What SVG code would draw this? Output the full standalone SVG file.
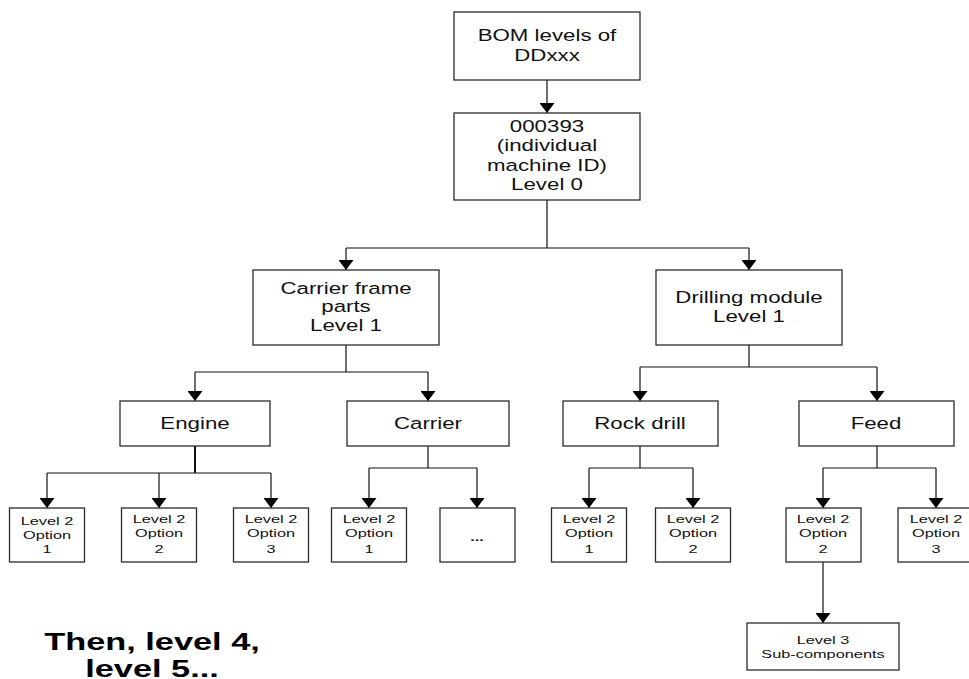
<svg xmlns="http://www.w3.org/2000/svg" width="969" height="679" viewBox="0 0 969 679">
  <style>
    .box { fill: #ffffff; stroke: #2b2b2b; stroke-width: 1.3; }
    .wire { fill: none; stroke: #111111; stroke-width: 1.2; }
    .lbl { font-family: "Liberation Sans", Arial, sans-serif; font-size: 16.5px; fill: #111111; text-anchor: middle; }
    .sm { font-family: "Liberation Sans", Arial, sans-serif; font-size: 11.5px; fill: #111111; text-anchor: middle; }
    .note { font-family: "Liberation Sans", Arial, sans-serif; font-size: 24px; font-weight: bold; fill: #000000; text-anchor: middle; }
  </style>
  <defs>
    <marker id="arrow" markerUnits="userSpaceOnUse" markerWidth="10" markerHeight="15" refX="10" refY="7.5" orient="auto" viewBox="0 0 10 15">
      <path d="M0,0 L10,7.5 L0,15 Z" fill="#000000"/>
    </marker>
  </defs>

  <rect width="969" height="679" fill="#ffffff"/>

  <!-- connectors -->
  <g id="connectors">
    <path class="wire" d="M547,80 V113" marker-end="url(#arrow)"/>
    <path class="wire" d="M547,200 V248 M346,248 H749"/>
    <path class="wire" d="M346,248 V270" marker-end="url(#arrow)"/>
    <path class="wire" d="M749,248 V270" marker-end="url(#arrow)"/>

    <path class="wire" d="M346,345 V372 M195,372 H428"/>
    <path class="wire" d="M195,372 V401" marker-end="url(#arrow)"/>
    <path class="wire" d="M428,372 V401" marker-end="url(#arrow)"/>

    <path class="wire" d="M749,345 V367 M640,367 H877"/>
    <path class="wire" d="M640,367 V401" marker-end="url(#arrow)"/>
    <path class="wire" d="M877,367 V401" marker-end="url(#arrow)"/>

    <path class="wire" d="M195,446 V473" style="stroke-width:2"/>
    <path class="wire" d="M47,473 H271"/>
    <path class="wire" d="M47,473 V508" marker-end="url(#arrow)"/>
    <path class="wire" d="M159,473 V508" marker-end="url(#arrow)"/>
    <path class="wire" d="M271,473 V508" marker-end="url(#arrow)"/>

    <path class="wire" d="M428,446 V468 M369,468 H477"/>
    <path class="wire" d="M369,468 V508" marker-end="url(#arrow)"/>
    <path class="wire" d="M477,468 V508" marker-end="url(#arrow)"/>

    <path class="wire" d="M640,446 V468 M589,468 H693"/>
    <path class="wire" d="M589,468 V508" marker-end="url(#arrow)"/>
    <path class="wire" d="M693,468 V508" marker-end="url(#arrow)"/>

    <path class="wire" d="M877,446 V468 M823,468 H936"/>
    <path class="wire" d="M823,468 V508" marker-end="url(#arrow)"/>
    <path class="wire" d="M936,468 V508" marker-end="url(#arrow)"/>

    <path class="wire" d="M823,562 V623" marker-end="url(#arrow)"/>
  </g>

  <!-- tree nodes -->
  <g id="bom-root">
    <rect class="box" x="454" y="12" width="186" height="68"/>
    <text class="lbl" transform="translate(547,0) scale(1.35,1)"><tspan x="0" y="41.5">BOM levels of</tspan><tspan x="0" y="61">DDxxx</tspan></text>
  </g>

  <g id="machine">
    <rect class="box" x="454" y="113" width="186" height="87"/>
    <text class="lbl" transform="translate(547,0) scale(1.35,1)"><tspan x="0" y="132.5">000393</tspan><tspan x="0" y="151.5">(individual</tspan><tspan x="0" y="171">machine ID)</tspan><tspan x="0" y="190.5">Level 0</tspan></text>
  </g>

  <g id="carrier-frame">
    <rect class="box" x="253" y="270" width="186" height="75"/>
    <text class="lbl" transform="translate(346,0) scale(1.35,1)"><tspan x="0" y="294">Carrier frame</tspan><tspan x="0" y="312.5">parts</tspan><tspan x="0" y="331.5">Level 1</tspan></text>
  </g>

  <g id="drilling-module">
    <rect class="box" x="656" y="270" width="186" height="75"/>
    <text class="lbl" transform="translate(749,0) scale(1.35,1)"><tspan x="0" y="303">Drilling module</tspan><tspan x="0" y="322.5">Level 1</tspan></text>
  </g>

  <g id="engine">
    <rect class="box" x="120" y="401" width="150" height="45"/>
    <text class="lbl" transform="translate(195,0) scale(1.35,1)" x="0" y="429">Engine</text>
  </g>

  <g id="carrier">
    <rect class="box" x="347" y="401" width="162" height="45"/>
    <text class="lbl" transform="translate(428,0) scale(1.35,1)" x="0" y="429">Carrier</text>
  </g>

  <g id="rock-drill">
    <rect class="box" x="563" y="401" width="155" height="45"/>
    <text class="lbl" transform="translate(640,0) scale(1.35,1)" x="0" y="429">Rock drill</text>
  </g>

  <g id="feed">
    <rect class="box" x="799" y="401" width="155" height="45"/>
    <text class="lbl" transform="translate(876,0) scale(1.35,1)" x="0" y="429">Feed</text>
  </g>

  <!-- level 2 options -->
  <g id="engine-opt1">
    <rect class="box" x="9.5" y="508" width="75" height="54"/>
    <text class="sm" transform="translate(47,0) scale(1.42,1)"><tspan x="0" y="525">Level 2</tspan><tspan x="0" y="539">Option</tspan><tspan x="0" y="553.5">1</tspan></text>
  </g>
  <g id="engine-opt2">
    <rect class="box" x="121.5" y="508" width="75" height="54"/>
    <text class="sm" transform="translate(159,0) scale(1.42,1)"><tspan x="0" y="523.5">Level 2</tspan><tspan x="0" y="537.5">Option</tspan><tspan x="0" y="553">2</tspan></text>
  </g>
  <g id="engine-opt3">
    <rect class="box" x="233.5" y="508" width="75" height="54"/>
    <text class="sm" transform="translate(271,0) scale(1.42,1)"><tspan x="0" y="523.5">Level 2</tspan><tspan x="0" y="537.5">Option</tspan><tspan x="0" y="553">3</tspan></text>
  </g>
  <g id="carrier-opt1">
    <rect class="box" x="331.5" y="508" width="75" height="54"/>
    <text class="sm" transform="translate(369,0) scale(1.42,1)"><tspan x="0" y="523.5">Level 2</tspan><tspan x="0" y="537.5">Option</tspan><tspan x="0" y="553">1</tspan></text>
  </g>
  <g id="carrier-more">
    <rect class="box" x="440" y="508" width="75" height="54"/>
    <text class="sm" transform="translate(477,0) scale(1.42,1)" x="0" y="541" style="font-weight:bold">...</text>
  </g>
  <g id="rockdrill-opt1">
    <rect class="box" x="551.5" y="508" width="75" height="54"/>
    <text class="sm" transform="translate(589,0) scale(1.42,1)"><tspan x="0" y="523.5">Level 2</tspan><tspan x="0" y="537.5">Option</tspan><tspan x="0" y="553">1</tspan></text>
  </g>
  <g id="rockdrill-opt2">
    <rect class="box" x="655.5" y="508" width="75" height="54"/>
    <text class="sm" transform="translate(693,0) scale(1.42,1)"><tspan x="0" y="523.5">Level 2</tspan><tspan x="0" y="537.5">Option</tspan><tspan x="0" y="553">2</tspan></text>
  </g>
  <g id="feed-opt2">
    <rect class="box" x="786" y="508" width="75" height="54"/>
    <text class="sm" transform="translate(823,0) scale(1.42,1)"><tspan x="0" y="523.5">Level 2</tspan><tspan x="0" y="537.5">Option</tspan><tspan x="0" y="553">2</tspan></text>
  </g>
  <g id="feed-opt3">
    <rect class="box" x="898" y="508" width="75" height="54"/>
    <text class="sm" transform="translate(936,0) scale(1.42,1)"><tspan x="0" y="523.5">Level 2</tspan><tspan x="0" y="537.5">Option</tspan><tspan x="0" y="553">3</tspan></text>
  </g>

  <g id="sub-components">
    <rect class="box" x="747" y="623" width="152" height="47"/>
    <text class="sm" transform="translate(823,0) scale(1.42,1)"><tspan x="0" y="644">Level 3</tspan><tspan x="0" y="658">Sub-components</tspan></text>
  </g>

  <!-- closing remark -->
  <g id="note">
    <text class="note" transform="translate(152,0) scale(1.43,1)"><tspan x="0" y="650">Then, level 4,</tspan><tspan x="0" y="677">level 5...</tspan></text>
  </g>
</svg>
